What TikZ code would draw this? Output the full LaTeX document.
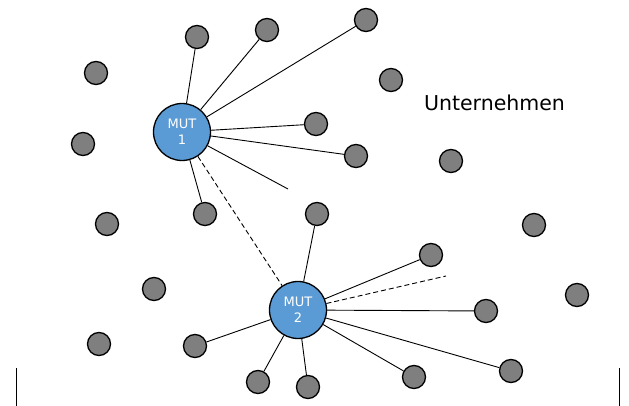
\documentclass[tikz,border=0pt]{standalone}
\usepackage{fontspec}
\setmainfont{DejaVu Sans}
\definecolor{nodegray}{HTML}{7F7F7F}
\definecolor{mutblue}{HTML}{5B9BD5}
\begin{document}
\begin{tikzpicture}[x=1pt,y=-1pt,
  gnode/.style={circle,draw=black,line width=1.3pt,fill=nodegray,minimum size=23pt,inner sep=0pt},
  mnode/.style={circle,draw=black,line width=1.3pt,fill=mutblue,minimum size=57pt,inner sep=0pt,
    text=white,font=\fontsize{13}{16}\selectfont,align=center},
  link/.style={draw=black,line width=0.9pt},
  dlink/.style={draw=black,line width=0.9pt,dash pattern=on 5pt off 3pt}]
\useasboundingbox (0,0) rectangle (629,406);
% small nodes
\node[gnode] (g1) at (197,37) {};
\node[gnode] (g2) at (267,30) {};
\node[gnode] (g3) at (366,20) {};
\node[gnode] (g4) at (96,73) {};
\node[gnode] (g5) at (391,80) {};
\node[gnode] (g6) at (316,124) {};
\node[gnode] (g7) at (83,144) {};
\node[gnode] (g8) at (356,156) {};
\node[gnode] (g9) at (451,161) {};
\node[gnode] (g10) at (107,224) {};
\node[gnode] (g11) at (205,214) {};
\node[gnode] (g12) at (317,214) {};
\node[gnode] (g13) at (534,225) {};
\node[gnode] (g14) at (431,255) {};
\node[gnode] (g15) at (154,289) {};
\node[gnode] (g16) at (577,295) {};
\node[gnode] (g17) at (486,311) {};
\node[gnode] (g18) at (99,344) {};
\node[gnode] (g19) at (195,346) {};
\node[gnode] (g20) at (258,382) {};
\node[gnode] (g21) at (308,387) {};
\node[gnode] (g22) at (414,377) {};
\node[gnode] (g23) at (511,371) {};
% MUT nodes
\node[mnode] (m1) at (182,132) {MUT\\1};
\node[mnode] (m2) at (298,310) {MUT\\2};
% free ends
\coordinate (f1) at (288,189);
\coordinate (f2) at (446,276);
% label
\node[font=\fontsize{20.5}{24}\selectfont,inner sep=0pt] (lbl) at (494.5,103) {Unternehmen};
% bars
\coordinate (b1t) at (16,368);
\coordinate (b1b) at (16,406);
\coordinate (b2t) at (619,368);
\coordinate (b2b) at (619,406);
\draw[link] (b1t) -- (b1b);
\draw[link] (b2t) -- (b2b);
% connectors
\foreach \t in {g1,g2,g3,g6,g8,g11} {\draw[link] (m1) -- (\t);}
\draw[link] (m1) -- (f1);
\foreach \t in {g12,g14,g17,g23,g22,g21,g20,g19} {\draw[link] (m2) -- (\t);}
\draw[dlink] (m2) -- (f2);
\draw[dlink] (m1) -- (m2);
\end{tikzpicture}
\end{document}
